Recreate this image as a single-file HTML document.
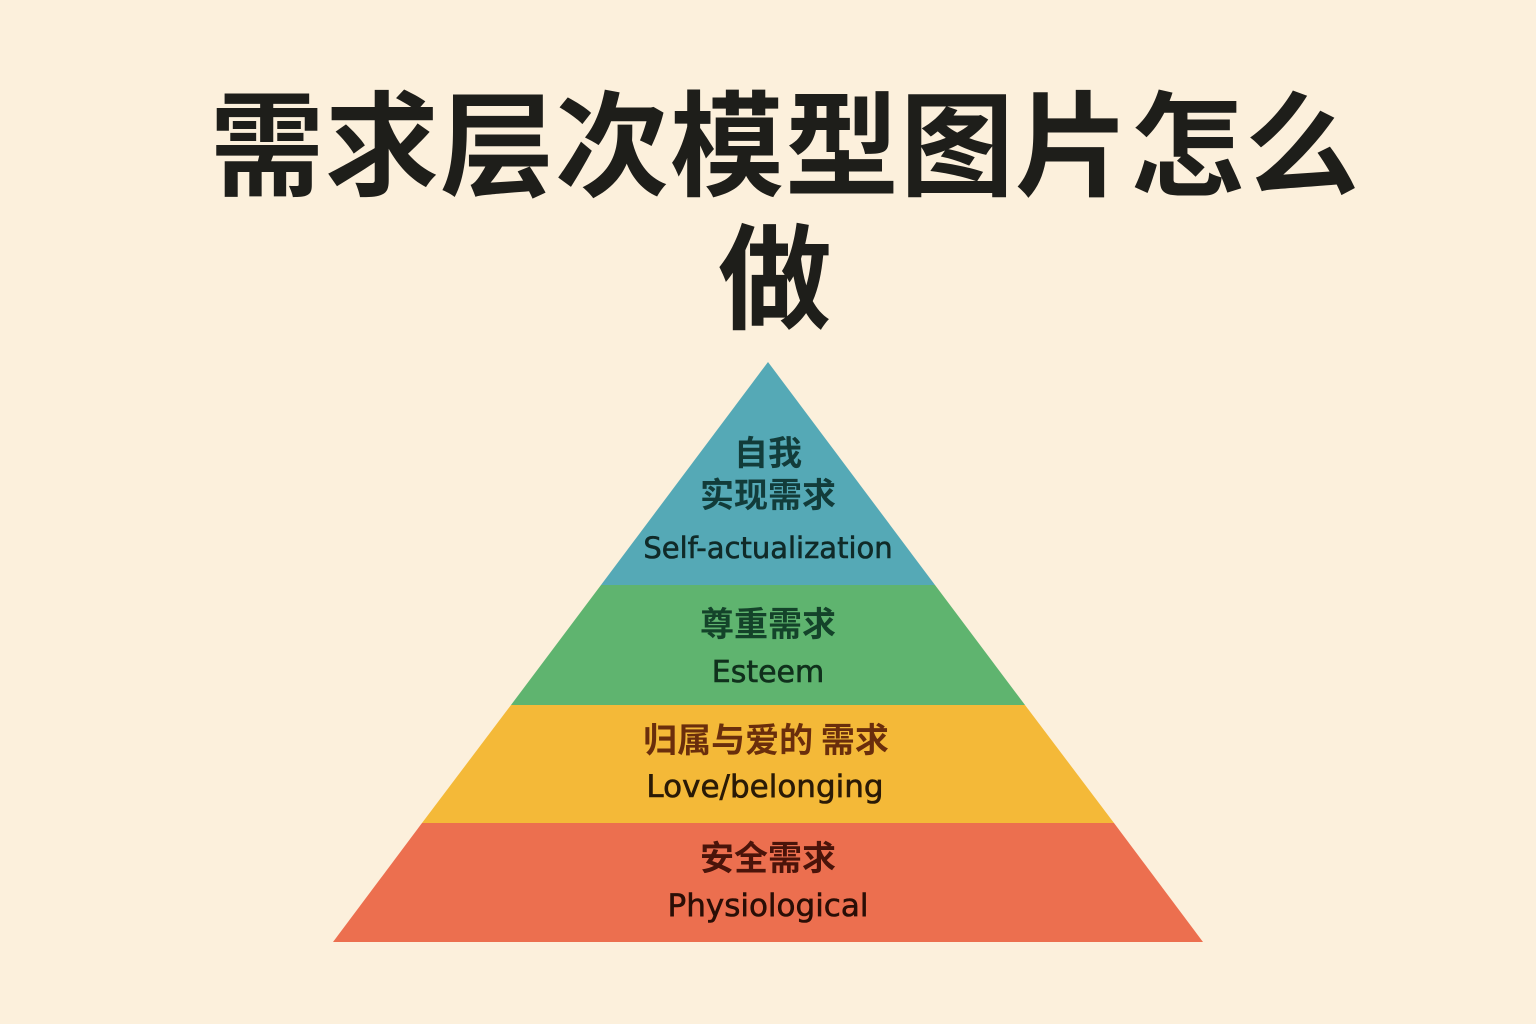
<!DOCTYPE html>
<html><head><meta charset="utf-8"><style>
html,body{margin:0;padding:0;background:#fcf0dc;}
svg{display:block}
text{font-family:"Liberation Sans","Noto Sans CJK SC",sans-serif;}
.t{font-family:"Noto Sans CJK SC","WenQuanYi Zen Hei",sans-serif;font-weight:700;}
.c{font-family:"Noto Sans CJK SC",sans-serif;font-weight:700;}
.e{font-family:"DejaVu Sans","Liberation Sans",sans-serif;}
</style></head><body>
<svg width="1536" height="1024" viewBox="0 0 1536 1024" xmlns="http://www.w3.org/2000/svg">
<rect width="1536" height="1024" fill="#fcf0dc"/>
<text class="t" x="785" y="187" font-size="114" text-anchor="middle" fill="#1e1e1a" letter-spacing="1">需求层次模型图片怎么</text>
<text class="t" x="775" y="320" font-size="114" text-anchor="middle" fill="#1e1e1a">做</text>
<polygon points="768,362 935,585 601,585" fill="#55a9b6"/>
<polygon points="601,585 935,585 1025,705 511,705" fill="#5fb46f"/>
<polygon points="511,705 1025,705 1114,823 422,823" fill="#f4b938"/>
<polygon points="422,823 1114,823 1203,942 333,942" fill="#ec6f4f"/>
<text class="c" x="768" y="465" font-size="34" text-anchor="middle" fill="#123c3a">自我</text>
<text class="c" x="768" y="507" font-size="34" text-anchor="middle" fill="#123c3a">实现需求</text>
<text class="e" x="768" y="558" font-size="29" text-anchor="middle" fill="#102a28" stroke="#102a28" stroke-width="0.6">Self-actualization</text>
<text class="c" x="768" y="636" font-size="34" text-anchor="middle" fill="#14432a">尊重需求</text>
<text class="e" x="768" y="682" font-size="30" text-anchor="middle" fill="#10301c" stroke="#10301c" stroke-width="0.6">Esteem</text>
<text class="c" x="766" y="752" font-size="34" text-anchor="middle" fill="#6a2e0c">归属与爱的 需求</text>
<text class="e" x="765" y="797" font-size="31" text-anchor="middle" fill="#2a1a06" stroke="#2a1a06" stroke-width="0.6">Love/belonging</text>
<text class="c" x="768" y="870" font-size="34" text-anchor="middle" fill="#4a140a">安全需求</text>
<text class="e" x="768" y="916" font-size="31" text-anchor="middle" fill="#2a0e06" stroke="#2a0e06" stroke-width="0.6">Physiological</text>
</svg>
</body></html>
